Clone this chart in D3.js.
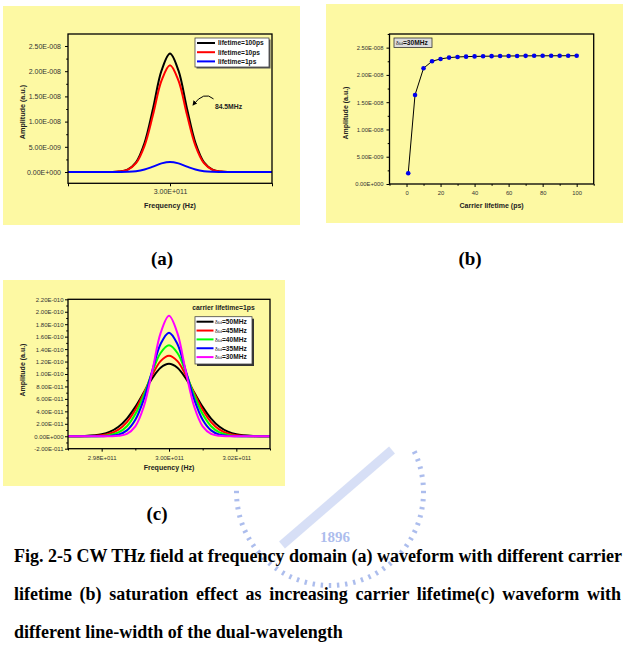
<!DOCTYPE html>
<html><head><meta charset="utf-8">
<script src="https://cdn.jsdelivr.net/npm/d3@7"></script>
<style>body{margin:0;background:#fff}svg{display:block}</style>
</head><body>
<svg id="c" width="635" height="649"></svg>
<script>
// ---------------- DATA ----------------
// Frequency samples (Hz) shared by panels (a) and (c)
const frequencyHz = [2.970e11,2.975e11,2.980e11,2.9825e11,2.985e11,2.9875e11,2.990e11,2.9925e11,2.995e11,2.9975e11,3.000e11,
                     3.0025e11,3.005e11,3.0075e11,3.010e11,3.0125e11,3.015e11,3.0175e11,3.020e11,3.025e11,3.030e11];
// Panel (a): amplitude in units of 1e-8
const lifetimeLabelsA = ["lifetime=100ps","lifetime=10ps","lifetime=1ps"];
const ampA_100ps = [0,0,0,0.001,0.008,0.047,0.192,0.575,1.257,2.010,2.350,2.010,1.257,0.575,0.192,0.047,0.008,0.001,0,0,0];
const ampA_10ps  = [0,0,0,0.001,0.008,0.042,0.174,0.519,1.134,1.813,2.120,1.813,1.134,0.519,0.174,0.042,0.008,0.001,0,0,0];
const ampA_1ps   = [0,0,0,0,0.001,0.004,0.016,0.049,0.107,0.171,0.200,0.171,0.107,0.049,0.016,0.004,0.001,0,0,0,0];
const colorsA = ["#000000","#ff0000","#0000ff"];
const yTicksA = [0,0.5,1.0,1.5,2.0,2.5];
const yMinorA = [0.25,0.75,1.25,1.75,2.25];
const xTicksA = [2.97e11,3.00e11,3.03e11];
const xLabelsA = ["","3.00E+011",""];

// Panel (b): carrier lifetime (ps) vs amplitude (units of 1e-8)
const carrierLifetimePs = [1,5,10,15,20,25,30,35,40,45,50,55,60,65,70,75,80,85,90,95,100];
const ampB = [0.196,1.633,2.122,2.250,2.293,2.317,2.329,2.335,2.339,2.342,2.344,2.346,2.347,2.348,2.349,2.350,2.350,2.351,2.351,2.352,2.352];
const xTicksB = [0,20,40,60,80,100];
const xMinorB = [-10,10,30,50,70,90,110];
const yTicksB = [0,0.5,1.0,1.5,2.0,2.5];
const yMinorB = [0.25,0.75,1.25,1.75,2.25,2.75];

// Panel (c): amplitude in units of 1e-10, carrier lifetime = 1ps
const linewidthLabelsC = ["50MHz","45MHz","40MHz","35MHz","30MHz"];
const ampC_50 = [0,0.004,0.031,0.073,0.153,0.284,0.472,0.701,0.930,1.101,1.165,1.101,0.930,0.701,0.472,0.284,0.153,0.073,0.031,0.004,0];
const ampC_45 = [0,0.001,0.015,0.043,0.106,0.227,0.425,0.692,0.979,1.207,1.294,1.207,0.979,0.692,0.425,0.227,0.106,0.043,0.015,0.001,0];
const ampC_40 = [0,0,0.005,0.019,0.061,0.161,0.356,0.660,1.026,1.338,1.461,1.338,1.026,0.660,0.356,0.161,0.061,0.019,0.005,0,0];
const ampC_35 = [0,0,0.001,0.006,0.026,0.094,0.264,0.590,1.049,1.482,1.663,1.482,1.049,0.590,0.264,0.094,0.026,0.006,0.001,0,0];
const ampC_30 = [0,0,0,0.001,0.007,0.039,0.159,0.474,1.036,1.656,1.936,1.656,1.036,0.474,0.159,0.039,0.007,0.001,0,0,0];
const colorsC = ["#000000","#ff0000","#00ff00","#0000ff","#ff00ff"];
const yTicksC = [-0.2,0,0.2,0.4,0.6,0.8,1.0,1.2,1.4,1.6,1.8,2.0,2.2];
const yMinorC = [-0.1,0.1,0.3,0.5,0.7,0.9,1.1,1.3,1.5,1.7,1.9,2.1];
const xTicksC = [2.98e11,3.00e11,3.02e11];
const xMinorC = [2.97e11,2.99e11,3.01e11,3.03e11];

const captionLines = [
  "Fig. 2-5 CW THz field at frequency domain (a) waveform with different carrier",
  "lifetime (b) saturation effect as increasing carrier lifetime(c) waveform with",
  "different line-width of the dual-wavelength"
];

// ---------------- HELPERS ----------------
const svg = d3.select("#c");
const YELLOW = "#fdf9a3";
const SANS = "'Liberation Sans', Arial, sans-serif";
const SERIF = "'Liberation Serif', 'Times New Roman', serif";

function sci(val) {
  if (Math.abs(val) < 1e-30) return "0.00E+000";
  let e = Math.floor(Math.log10(Math.abs(val)) + 1e-9);
  let m = val / Math.pow(10, e);
  if (Math.abs(m) >= 9.995) { m /= 10; e += 1; }
  return m.toFixed(2) + "E" + (e < 0 ? "-" : "+") + String(Math.abs(e)).padStart(3, "0");
}

function panel(p) {
  const g = svg.append("g");
  g.append("rect").attr("x", p.bg[0]).attr("y", p.bg[1]).attr("width", p.bg[2]).attr("height", p.bg[3]).attr("fill", YELLOW);
  const [fx0, fy0, fx1, fy1] = p.frame;
  const x = d3.scaleLinear().domain(p.xDomain).range([fx0, fx1]);
  const y = d3.scaleLinear().domain(p.yDomain).range([fy1, fy0]);

  const styleAxis = (sel, fs) => {
    sel.select(".domain").remove();
    sel.selectAll(".tick line").attr("stroke", "#000").attr("stroke-width", 1);
    sel.selectAll(".tick text").attr("font-family", SANS).attr("font-size", fs).attr("fill", "#333");
  };
  if (p.xMinor) {
    g.append("g").attr("transform", `translate(0,${fy1})`)
      .call(d3.axisBottom(x).tickValues(p.xMinor).tickSize(p.minorLen).tickFormat(""))
      .call(s => styleAxis(s, p.tickFs));
  }
  g.append("g").attr("transform", `translate(0,${fy1})`)
    .call(d3.axisBottom(x).tickValues(p.xTicks).tickSize(p.majorLen).tickPadding(p.xPad).tickFormat(p.xFmt))
    .call(s => styleAxis(s, p.tickFs));
  if (p.yMinor) {
    g.append("g").attr("transform", `translate(${fx0},0)`)
      .call(d3.axisLeft(y).tickValues(p.yMinor).tickSize(p.minorLen).tickFormat(""))
      .call(s => styleAxis(s, p.tickFs));
  }
  g.append("g").attr("transform", `translate(${fx0},0)`)
    .call(d3.axisLeft(y).tickValues(p.yTicks).tickSize(p.majorLen).tickPadding(p.yPad).tickFormat(p.yFmt))
    .call(s => styleAxis(s, p.tickFs));

  const plot = g.append("g");
  g.append("rect").attr("x", fx0).attr("y", fy0).attr("width", fx1 - fx0).attr("height", fy1 - fy0)
    .attr("fill", "none").attr("stroke", "#000").attr("stroke-width", 1.3);

  g.append("text").attr("x", (fx0 + fx1) / 2).attr("y", p.xTitleY).attr("text-anchor", "middle")
    .attr("font-family", SANS).attr("font-weight", "bold").attr("font-size", p.titleFs).attr("fill", "#222").text(p.xTitle);
  g.append("text").attr("transform", `translate(${p.yTitleX},${p.yTitleCY}) rotate(-90)`).attr("text-anchor", "middle")
    .attr("font-family", SANS).attr("font-weight", "bold").attr("font-size", p.titleFs).attr("fill", "#222").text(p.yTitle);
  return {g, plot, x, y};
}

// ---------------- WATERMARK (faint seal behind caption) ----------------
(function () {
  const wm = svg.append("g").attr("opacity", 0.45);
  const cx = 330, cy = 492, r = 96;
  d3.range(-25, 206, 5).forEach(a => {
    const t = a * Math.PI / 180;
    wm.append("line")
      .attr("x1", cx + (r - 5) * Math.cos(t)).attr("y1", cy + (r - 5) * Math.sin(t))
      .attr("x2", cx + r * Math.cos(t)).attr("y2", cy + r * Math.sin(t))
      .attr("stroke", "#4a6fd8").attr("stroke-width", 2.4);
  });
  wm.append("line").attr("x1", 282).attr("y1", 545).attr("x2", 392).attr("y2", 450)
    .attr("stroke", "#6f8de0").attr("stroke-width", 9).attr("opacity", 0.6);
  wm.append("text").attr("x", 335).attr("y", 542).attr("text-anchor", "middle").attr("font-family", SERIF)
    .attr("font-weight", "bold").attr("font-size", 15).attr("fill", "#4a6fd8").text("1896");
})();

// ---------------- PANEL (a) ----------------
(function () {
  const P = panel({
    bg: [3, 6, 297, 219], frame: [68, 34, 272, 183.3],
    xDomain: [2.97e11, 3.03e11], yDomain: [-0.224, 2.738],
    xTicks: xTicksA, xFmt: (d, i) => xLabelsA[i], yTicks: yTicksA, yMinor: yMinorA,
    yFmt: d => sci(d * 1e-8), majorLen: 3, minorLen: 1.8, xPad: 3, yPad: 4, tickFs: 7,
    xTitle: "Frequency (Hz)", xTitleY: 207.5, yTitle: "Amplitude (a.u.)", yTitleX: 24.5, yTitleCY: 112, titleFs: 7.2
  });
  const series = [ampA_100ps, ampA_10ps, ampA_1ps];
  const line = d3.line().x((d, i) => P.x(frequencyHz[i])).y(d => P.y(d)).curve(d3.curveCatmullRom.alpha(0.5));
  series.forEach((s, k) => {
    P.plot.append("path").datum(s).attr("d", line).attr("fill", "none").attr("stroke", colorsA[k]).attr("stroke-width", 2);
  });
  const lg = P.g.append("g");
  lg.append("rect").attr("x", 196.5).attr("y", 39.5).attr("width", 74).attr("height", 29).attr("fill", "#555");
  lg.append("rect").attr("x", 195).attr("y", 38).attr("width", 74).attr("height", 29).attr("fill", "#fff").attr("stroke", "#444").attr("stroke-width", 0.8);
  lifetimeLabelsA.forEach((t, k) => {
    const yy = 43 + k * 9.2;
    lg.append("line").attr("x1", 197).attr("x2", 215).attr("y1", yy).attr("y2", yy).attr("stroke", colorsA[k]).attr("stroke-width", 2);
    lg.append("text").attr("x", 218).attr("y", yy + 2.4).attr("font-family", SANS).attr("font-weight", "bold").attr("font-size", 6.6).attr("fill", "#111").text(t);
  });
  const tip = [P.x(3.0068e11), P.y(1.33)];
  const start = [P.x(3.0128e11), P.y(1.45)];
  const ctrl = [P.x(3.0100e11), P.y(1.62)];
  P.g.append("defs").append("marker").attr("id", "arr").attr("viewBox", "0 0 10 10").attr("refX", 8).attr("refY", 5)
    .attr("markerWidth", 5).attr("markerHeight", 5).attr("orient", "auto")
    .append("path").attr("d", "M0,0 L10,5 L0,10 z").attr("fill", "#000");
  P.g.append("path").attr("d", `M${start[0]},${start[1]} Q${ctrl[0]},${ctrl[1]} ${tip[0]},${tip[1]}`)
    .attr("fill", "none").attr("stroke", "#000").attr("stroke-width", 1).attr("marker-end", "url(#arr)");
  P.g.append("text").attr("x", P.x(3.0132e11)).attr("y", P.y(1.30) + 2.5).attr("font-family", SANS).attr("font-weight", "bold")
    .attr("font-size", 6.8).attr("fill", "#222").text("84.5MHz");
})();

// ---------------- PANEL (b) ----------------
(function () {
  const P = panel({
    bg: [326, 4, 297, 219], frame: [389.5, 34, 593.7, 184],
    xDomain: [-10, 110], yDomain: [0, 2.75],
    xTicks: xTicksB, xMinor: xMinorB, xFmt: d => String(d), yTicks: yTicksB, yMinor: yMinorB,
    yFmt: d => sci(d * 1e-8), majorLen: 3, minorLen: 1.8, xPad: 3.5, yPad: 3, tickFs: 5.8,
    xTitle: "Carrier lifetime (ps)", xTitleY: 207.5, yTitle: "Amplitude (a.u.)", yTitleX: 347.5, yTitleCY: 113, titleFs: 7
  });
  const line = d3.line().x((d, i) => P.x(carrierLifetimePs[i])).y(d => P.y(d));
  P.plot.append("path").datum(ampB).attr("d", line).attr("fill", "none").attr("stroke", "#000").attr("stroke-width", 1);
  P.plot.selectAll("circle").data(ampB).join("circle")
    .attr("cx", (d, i) => P.x(carrierLifetimePs[i])).attr("cy", d => P.y(d)).attr("r", 2.3).attr("fill", "#0000ee");
  const lb = P.g.append("g");
  lb.append("rect").attr("x", 394).attr("y", 38).attr("width", 38).attr("height", 9.5).attr("fill", "#dcdcdc").attr("stroke", "#333").attr("stroke-width", 0.8);
  const t = lb.append("text").attr("x", 396).attr("y", 45.3).attr("font-family", SANS).attr("font-size", 6.6).attr("fill", "#111");
  t.append("tspan").attr("font-size", 5.2).text("δω");
  t.append("tspan").attr("font-weight", "bold").text("=30MHz");
})();

// ---------------- PANEL (c) ----------------
(function () {
  const P = panel({
    bg: [3, 280, 282, 206], frame: [68, 299.3, 270, 448.7],
    xDomain: [2.97e11, 3.03e11], yDomain: [-0.2, 2.2],
    xTicks: xTicksC, xMinor: xMinorC, xFmt: d => sci(d), yTicks: yTicksC, yMinor: yMinorC,
    yFmt: d => sci(d * 1e-10), majorLen: 3, minorLen: 1.8, xPad: 4, yPad: 1.5, tickFs: 6,
    xTitle: "Frequency (Hz)", xTitleY: 470, yTitle: "Amplitude (a.u.)", yTitleX: 24.5, yTitleCY: 370, titleFs: 7
  });
  const series = [ampC_50, ampC_45, ampC_40, ampC_35, ampC_30];
  const line = d3.line().x((d, i) => P.x(frequencyHz[i])).y(d => P.y(d)).curve(d3.curveCatmullRom.alpha(0.5));
  series.forEach((s, k) => {
    P.plot.append("path").datum(s).attr("d", line).attr("fill", "none").attr("stroke", colorsC[k]).attr("stroke-width", 2);
  });
  P.g.append("text").attr("x", 223.5).attr("y", 309.8).attr("text-anchor", "middle").attr("font-family", SANS)
    .attr("font-weight", "bold").attr("font-size", 6.8).attr("fill", "#222").text("carrier lifetime=1ps");
  const lg = P.g.append("g");
  lg.append("rect").attr("x", 197).attr("y", 318.7).attr("width", 57).attr("height", 47.3).attr("fill", "#333");
  lg.append("rect").attr("x", 195).attr("y", 316.7).attr("width", 57).attr("height", 47.3).attr("fill", "#fff").attr("stroke", "#444").attr("stroke-width", 0.8);
  linewidthLabelsC.forEach((lab, k) => {
    const yy = 321.7 + k * 8.85;
    lg.append("line").attr("x1", 196.5).attr("x2", 213.5).attr("y1", yy).attr("y2", yy).attr("stroke", colorsC[k]).attr("stroke-width", 2);
    const t = lg.append("text").attr("x", 215).attr("y", yy + 2.3).attr("font-family", SANS).attr("font-size", 6.6).attr("fill", "#111");
    t.append("tspan").attr("font-size", 5.2).text("δω");
    t.append("tspan").attr("font-weight", "bold").text("=" + lab);
  });
})();

// ---------------- LABELS & CAPTION ----------------
[["(a)", 162, 265], ["(b)", 470, 265], ["(c)", 157, 520]].forEach(([t, x, y]) => {
  svg.append("text").attr("x", x).attr("y", y).attr("text-anchor", "middle").attr("font-family", SERIF)
    .attr("font-weight", "bold").attr("font-size", 19).attr("fill", "#000").text(t);
});
const capY = [562, 600, 638];
captionLines.forEach((t, i) => {
  const el = svg.append("text").attr("x", 14).attr("y", capY[i]).attr("font-family", SERIF)
    .attr("font-weight", "bold").attr("font-size", 18).attr("fill", "#000").text(t);
  if (i < 2) {
    const w = el.node().getComputedTextLength();
    const spaces = (t.match(/ /g) || []).length;
    el.attr("word-spacing", Math.max(0, (607 - w) / spaces));
  }
});
</script>
</body></html>
